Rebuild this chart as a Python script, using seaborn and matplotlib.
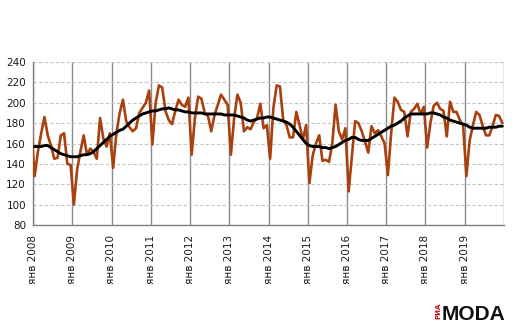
import numpy as np
import pandas as pd
import matplotlib
matplotlib.use("Agg")
import matplotlib.pyplot as plt
import matplotlib.transforms as mtransforms
import seaborn as sns

# ---- data ----
years = list(range(2008, 2020))
tick_labels = [f"янв {y}" for y in years]
lead_in = 172  # Dec 2007 value, clipped at the left edge

monthly = [
    128, 152, 170, 186, 168, 158, 145, 146, 168, 170, 140, 139,   # 2008
    100, 135, 152, 168, 149, 155, 152, 145, 185, 165, 157, 170,   # 2009
    136, 170, 190, 203, 182, 176, 172, 175, 190, 195, 200, 212,   # 2010
    159, 200, 217, 215, 192, 183, 179, 192, 203, 198, 196, 205,   # 2011
    149, 185, 206, 204, 190, 187, 172, 188, 198, 208, 203, 198,   # 2012
    149, 185, 208, 200, 172, 176, 174, 181, 185, 199, 175, 178,   # 2013
    145, 195, 217, 216, 183, 178, 166, 166, 191, 178, 164, 178,   # 2014
    121, 148, 160, 168, 143, 144, 142, 160, 198, 172, 164, 175,   # 2015
    113, 147, 182, 180, 172, 162, 151, 177, 170, 173, 167, 160,   # 2016
    129, 170, 205, 201, 193, 191, 167, 191, 194, 199, 189, 196,   # 2017
    156, 180, 197, 200, 194, 192, 167, 201, 191, 191, 183, 178,   # 2018
    128, 163, 178, 191, 188, 177, 168, 168, 177, 188, 187, 180,   # 2019
]

trend = [
    157, 157, 157, 158, 158, 156, 154, 152, 150, 149, 148, 147,   # 2008
    147, 147, 148, 149, 149, 150, 152, 155, 158, 161, 164, 167,   # 2009
    169, 171, 173, 174, 177, 180, 183, 185, 187, 189, 190, 191,   # 2010
    192, 192, 193, 194, 194, 195, 194, 193, 193, 192, 191, 191,   # 2011
    190, 190, 190, 190, 189, 189, 189, 189, 189, 189, 188, 188,   # 2012
    188, 188, 187, 186, 185, 183, 182, 183, 184, 185, 185, 186,   # 2013
    186, 185, 184, 183, 182, 181, 179, 176, 172, 168, 164, 160,   # 2014
    158, 157, 157, 157, 156, 156, 155, 156, 157, 159, 161, 163,   # 2015
    164, 166, 166, 164, 163, 163, 163, 165, 167, 169, 171, 173,   # 2016
    175, 177, 178, 180, 182, 185, 187, 189, 189, 189, 189, 189,   # 2017
    189, 190, 190, 189, 188, 186, 185, 183, 182, 181, 180, 179,   # 2018
    178, 176, 175, 175, 175, 175, 175, 176, 176, 176, 177, 177,   # 2019
]

y_ticks = [80, 100, 120, 140, 160, 180, 200, 220, 240]

# ---- build frames ----
n = len(monthly)
df_m = pd.DataFrame({"pos": np.arange(-1, n) + 0.5, "value": [lead_in] + monthly})
df_t = pd.DataFrame({"pos": np.arange(n) + 0.5, "value": trend})

sns.set_style("white")
plt.rcParams["font.family"] = ["DejaVu Sans"]

W, H = 521, 328
fig = plt.figure(figsize=(W / 100, H / 100), dpi=100)
ax = fig.add_axes([33 / W, 1 - 225 / H, 471 / W, 163 / H])

sns.lineplot(data=df_m, x="pos", y="value", color="#A8410E", lw=1.9, ax=ax, zorder=3)
sns.lineplot(data=df_t, x="pos", y="value", color="#000000", lw=2.1, ax=ax, zorder=4)

ax.set_xlim(0, n)
ax.set_ylim(80, 240)
ax.set_xlabel("")
ax.set_ylabel("")

xt = list(range(0, n + 1, 12))
ax.set_xticks(xt)
ax.set_xticklabels(tick_labels + [""], rotation=90, fontsize=7.5, color="#1a1a1a",
                   va="top", ha="center")
shift = mtransforms.ScaledTranslation(3 / 100, 0, fig.dpi_scale_trans)
for lbl in ax.get_xticklabels():
    lbl.set_transform(lbl.get_transform() + shift)

ax.set_yticks(y_ticks)
ax.set_yticklabels([str(v) for v in y_ticks], fontsize=7.5, color="#1a1a1a")

ax.grid(axis="y", color="#c4c4c4", lw=0.8, linestyle=(0, (3, 2)))
ax.grid(axis="x", color="#8c8c8c", lw=1.0, linestyle="-")
ax.set_axisbelow(True)

for s in ["top", "right"]:
    ax.spines[s].set_visible(False)
for s in ["left", "bottom"]:
    ax.spines[s].set_color("#808080")
    ax.spines[s].set_linewidth(1.0)

ax.tick_params(axis="both", which="both", length=3, width=1.0, color="#808080",
               direction="out", pad=2)
ax.tick_params(axis="x", pad=4)

# watermark
fig.text(442 / W, 1 - 320 / H, "MODA", fontsize=15, fontweight="bold",
         family=["Liberation Sans", "DejaVu Sans"], color="#111111",
         ha="left", va="baseline")
fig.text(438 / W, 1 - 311 / H, "РИА", fontsize=5, fontweight="bold",
         color="#C0121B", rotation=90, ha="center", va="center")

fig.savefig("out.png", dpi=100)
